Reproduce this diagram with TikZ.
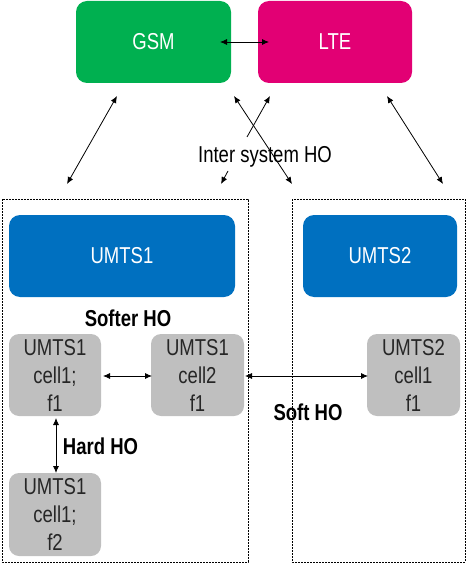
\documentclass[tikz,border=0pt]{standalone}
\usepackage{fontspec}
\setmainfont{Liberation Sans}[FakeStretch=0.805]
\usetikzlibrary{arrows.meta}
\definecolor{gsmgreen}{HTML}{00B050}
\definecolor{ltemag}{HTML}{E20074}
\definecolor{umtsblue}{HTML}{0070C0}
\definecolor{cellgray}{HTML}{BFBFBF}
\definecolor{celltext}{HTML}{262626}
\tikzset{
  sysbox/.style={rounded corners=11pt, inner sep=0pt, text=white,
    font=\fontsize{23}{28}\selectfont, minimum height=82pt},
  cellbox/.style={rounded corners=10pt, fill=cellgray, inner sep=0pt, text=celltext,
    align=center, font=\fontsize{23}{28}\selectfont, minimum width=92pt, minimum height=82pt},
  hobox/.style={draw=black, dash pattern=on 2pt off 1pt, line width=0.7pt},
  holabel/.style={inner sep=0pt, font=\fontsize{23}{28}\selectfont\bfseries},
  islabel/.style={inner sep=0pt, font=\fontsize{23}{28}\selectfont},
  conn/.style={line width=0.8pt, {Latex[length=7pt,width=6pt]}-{Latex[length=7pt,width=6pt]}},
  connend/.style={line width=0.8pt, -{Latex[length=7pt,width=6pt]}}
}
\begin{document}
\begin{tikzpicture}[x=1pt,y=-1pt]
\useasboundingbox (0,0) rectangle (467,564);
% dashed system frames
\draw[hobox] (2,199) rectangle (248,562);
\draw[hobox] (292,199) rectangle (465,562);
% top systems
\node[sysbox, fill=gsmgreen, minimum width=155pt] (gsm) at (153.5,42) {GSM};
\node[sysbox, fill=ltemag, minimum width=154pt] (lte) at (335,42) {LTE};
% UMTS systems
\node[sysbox, fill=umtsblue, minimum width=226pt] (umts1) at (122,256) {UMTS1};
\node[sysbox, fill=umtsblue, minimum width=154pt] (umts2) at (380,256) {UMTS2};
% cells
\node[cellbox] (c11) at (55,375) {UMTS1\\cell1;\\f1};
\node[cellbox, minimum width=93pt] (c12) at (197.5,375) {UMTS1\\cell2\\f1};
\node[cellbox, minimum width=93pt] (c21) at (413.5,375) {UMTS2\\cell1\\f1};
\node[cellbox, minimum height=83pt] (c1f2) at (55,514.5) {UMTS1\\cell1;\\f2};
% labels
\node[islabel] (isho) at (265,157) {Inter system HO};
\node[holabel] (softer) at (128,318) {Softer HO};
\node[holabel] (soft) at (308,412) {Soft HO};
\node[holabel] (hard) at (100.5,446) {Hard HO};
% connector end points
\coordinate (gsmR) at (220,42);
\coordinate (lteL) at (269,42);
\coordinate (a1t) at (117,96);   \coordinate (a1b) at (67,184);
\coordinate (a2t) at (234,96);   \coordinate (a2b) at (292,184);
\coordinate (a3t) at (270,96);   \coordinate (a3m) at (247,137);
\coordinate (a3n) at (228,171);  \coordinate (a3b) at (221,184);
\coordinate (a4t) at (387,96);   \coordinate (a4b) at (443,184);
\coordinate (s1) at (103,376);   \coordinate (s2) at (152,376);
\coordinate (t1) at (245,376);   \coordinate (t2) at (368,376);
\coordinate (h1) at (56,418);    \coordinate (h2) at (56,473);
% connectors
\draw[conn] (gsmR) -- (lteL);
\draw[conn] (a1t) -- (a1b);
\draw[conn] (a2t) -- (a2b);
\draw[connend] (a3m) -- (a3t);
\draw[connend] (a3n) -- (a3b);
\draw[conn] (a4t) -- (a4b);
\draw[conn] (s1) -- (s2);
\draw[conn] (t1) -- (t2);
\draw[conn] (h1) -- (h2);
\end{tikzpicture}
\end{document}
